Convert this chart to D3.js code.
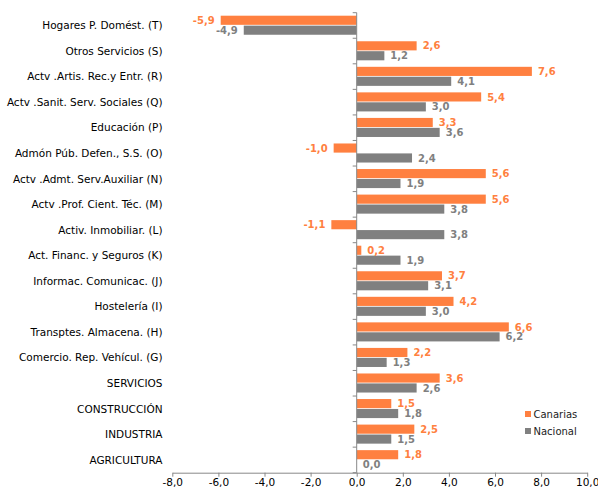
<!DOCTYPE html>
<html>
<head>
<meta charset="utf-8">
<script src="https://cdn.jsdelivr.net/npm/d3@7"></script>
<style>
  body { margin: 0; background: #fff; }
  text { font-family: "DejaVu Sans", Verdana, sans-serif; }
</style>
</head>
<body>
<div class="chart"></div>
<script>
var categories = [
  "Hogares P. Domést. (T)",
  "Otros Servicios (S)",
  "Actv .Artis. Rec.y Entr. (R)",
  "Actv .Sanit. Serv. Sociales (Q)",
  "Educación (P)",
  "Admón Púb. Defen., S.S. (O)",
  "Actv .Admt. Serv.Auxiliar (N)",
  "Actv .Prof. Cient. Téc. (M)",
  "Activ. Inmobiliar. (L)",
  "Act. Financ. y Seguros (K)",
  "Informac. Comunicac. (J)",
  "Hostelería (I)",
  "Transptes. Almacena. (H)",
  "Comercio. Rep. Vehícul. (G)",
  "SERVICIOS",
  "CONSTRUCCIÓN",
  "INDUSTRIA",
  "AGRICULTURA"
];
var canarias = [-5.9, 2.6, 7.6, 5.4, 3.3, -1.0, 5.6, 5.6, -1.1, 0.2, 3.7, 4.2, 6.6, 2.2, 3.6, 1.5, 2.5, 1.8];
var nacional = [-4.9, 1.2, 4.1, 3.0, 3.6, 2.4, 1.9, 3.8, 3.8, 1.9, 3.1, 3.0, 6.2, 1.3, 2.6, 1.8, 1.5, 0.0];
var seriesNames = ["Canarias", "Nacional"];
var seriesColors = ["#FF8040", "#808080"];
var xTicks = [-8, -6, -4, -2, 0, 2, 4, 6, 8, 10];

var width  = 598,
    height = 490;

var locale = d3.formatLocale({decimal: ",", thousands: ".", grouping: [3], currency: ["", " €"], minus: "-"});
var fmt = locale.format(".1f");

var svg = d3.select(".chart")
            .append("svg")
            .attr("width", width)
            .attr("height", height);

var x = d3.scaleLinear()
          .domain([-8, 10])
          .range([172.3, 587.2]);

var y = d3.scaleBand()
          .domain(categories)
          .range([12.7, 472.7])
          .padding(0);

var inner = d3.scaleBand()
              .domain(seriesNames)
              .range([3, y.bandwidth() - 3.5])
              .paddingInner(0.08);

// rows: one per category with both values
var rows = categories.map(function (c, i) {
  return {cat: c, values: [canarias[i], nacional[i]]};
});

// bars
var group = svg.selectAll("g.row")
               .data(rows)
               .enter()
               .append("g")
               .attr("class", "row")
               .attr("transform", function (d) { return "translate(0," + y(d.cat) + ")"; });

group.selectAll("rect")
     .data(function (d) { return d.values.map(function (v, s) { return {v: v, s: s}; }); })
     .enter()
     .append("rect")
     .attr("x", function (d) { return x(Math.min(0, d.v)); })
     .attr("y", function (d) { return inner(seriesNames[d.s]); })
     .attr("width", function (d) { return Math.abs(x(d.v) - x(0)); })
     .attr("height", inner.bandwidth())
     .attr("fill", function (d) { return seriesColors[d.s]; });

// value labels
group.selectAll("text.val")
     .data(function (d) { return d.values.map(function (v, s) { return {v: v, s: s}; }); })
     .enter()
     .append("text")
     .attr("class", "val")
     .attr("x", function (d) { return d.v < 0 ? x(d.v) - 6 : x(d.v) + 6; })
     .attr("y", function (d) { return inner(seriesNames[d.s]) + inner.bandwidth() / 2; })
     .attr("dy", "0.36em")
     .attr("text-anchor", function (d) { return d.v < 0 ? "end" : "start"; })
     .attr("font-size", "10px")
     .attr("font-weight", "bold")
     .attr("fill", function (d) { return seriesColors[d.s]; })
     .text(function (d) { return fmt(d.v); });

// category labels
svg.selectAll("text.cat")
   .data(categories)
   .enter()
   .append("text")
   .attr("class", "cat")
   .attr("x", 162.5)
   .attr("y", function (d) { return y(d) + y.bandwidth() / 2; })
   .attr("dy", "0.36em")
   .attr("text-anchor", "end")
   .attr("font-size", "10.5px")
   .attr("fill", "#000")
   .text(function (d) { return d; });

// vertical axis at zero with ticks on band boundaries
var yr = y.range();
svg.append("line")
   .attr("x1", x(0)).attr("x2", x(0))
   .attr("y1", yr[0]).attr("y2", yr[1])
   .attr("stroke", "#888").attr("stroke-width", 1);

var bounds = categories.map(function (c) { return y(c); }).concat([yr[1]]);
svg.selectAll("line.ytick")
   .data(bounds)
   .enter()
   .append("line")
   .attr("class", "ytick")
   .attr("x1", x(0) - 4).attr("x2", x(0))
   .attr("y1", function (d) { return d; })
   .attr("y2", function (d) { return d; })
   .attr("stroke", "#888");

// x axis
var xAxis = svg.append("g")
               .attr("transform", "translate(0," + yr[1] + ")")
               .call(d3.axisBottom(x).tickValues(xTicks).tickFormat(fmt).tickSize(4).tickSizeOuter(0));
xAxis.select(".domain").attr("stroke", "#888");
xAxis.selectAll(".tick line").attr("stroke", "#888");
xAxis.selectAll(".tick text")
     .attr("font-family", "DejaVu Sans, Verdana, sans-serif")
     .attr("font-size", "10.5px")
     .attr("fill", "#000")
     .attr("y", 6);

// legend
var legend = svg.selectAll("g.legend")
                .data(seriesNames)
                .enter()
                .append("g")
                .attr("class", "legend")
                .attr("transform", function (d, i) { return "translate(525," + (411 + i * 17) + ")"; });

legend.append("rect")
      .attr("width", 6).attr("height", 6)
      .attr("fill", function (d, i) { return seriesColors[i]; });

legend.append("text")
      .attr("x", 8.5)
      .attr("y", 3)
      .attr("dy", "0.36em")
      .attr("font-size", "10px")
      .attr("fill", "#222")
      .text(function (d) { return d; });
</script>
</body>
</html>
